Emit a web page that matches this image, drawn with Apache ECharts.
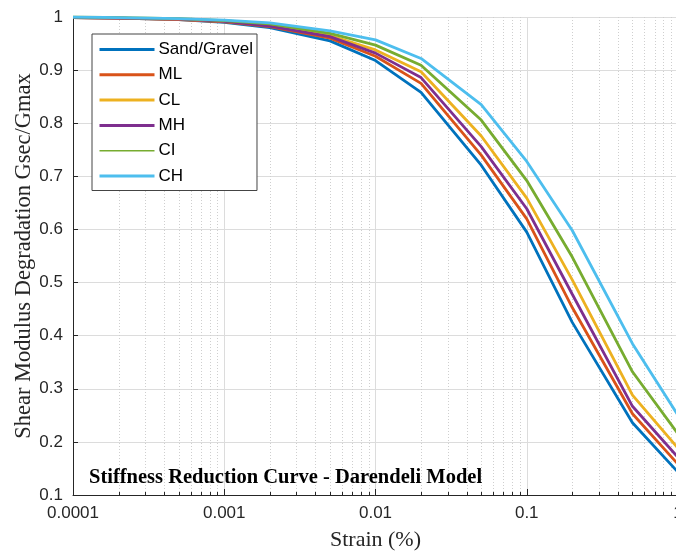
<!DOCTYPE html>
<html>
<head>
<meta charset="utf-8">
<script src="https://cdn.jsdelivr.net/npm/echarts@6/dist/echarts.min.js"></script>
<style>
html,body{margin:0;padding:0;background:#fff;}
#chart{width:676px;height:553px;}
</style>
</head>
<body>
<div id="chart"></div>
<script>
const strain = [0.0001, 0.0002, 0.0005, 0.001, 0.002, 0.005, 0.01, 0.02, 0.05, 0.1, 0.2, 0.5, 1];
const sandGravel = [0.999, 0.998, 0.995, 0.990, 0.980, 0.955, 0.918, 0.858, 0.721, 0.595, 0.425, 0.236, 0.143];
const ml = [0.999, 0.998, 0.995, 0.991, 0.982, 0.960, 0.926, 0.875, 0.740, 0.620, 0.453, 0.253, 0.158];
const cl = [0.999, 0.998, 0.996, 0.992, 0.985, 0.965, 0.938, 0.897, 0.776, 0.659, 0.505, 0.288, 0.188];
const mh = [0.999, 0.998, 0.996, 0.992, 0.983, 0.963, 0.932, 0.886, 0.756, 0.639, 0.478, 0.267, 0.171];
const ci = [1.000, 0.999, 0.997, 0.993, 0.987, 0.969, 0.947, 0.909, 0.806, 0.692, 0.548, 0.332, 0.215];
const ch = [1.000, 0.999, 0.997, 0.994, 0.989, 0.974, 0.957, 0.922, 0.835, 0.728, 0.598, 0.385, 0.250];
const seriesNames = ['Sand/Gravel', 'ML', 'CL', 'MH', 'CI', 'CH'];
const seriesValues = [sandGravel, ml, cl, mh, ci, ch];
const seriesColors = ['#0072BD', '#D95319', '#EDB120', '#7E2F8E', '#77AC30', '#4DBEEE'];
const xTickLabels = ['0.0001', '0.001', '0.01', '0.1', '1'];
const yTickLabels = ['0.1', '0.2', '0.3', '0.4', '0.5', '0.6', '0.7', '0.8', '0.9', '1'];
const minorStrain = [
  0.0002, 0.0003, 0.0004, 0.0005, 0.0006, 0.0007, 0.0008, 0.0009,
  0.002, 0.003, 0.004, 0.005, 0.006, 0.007, 0.008, 0.009,
  0.02, 0.03, 0.04, 0.05, 0.06, 0.07, 0.08, 0.09,
  0.2, 0.3, 0.4, 0.5, 0.6, 0.7, 0.8, 0.9
];
const xMin = 0.0001, xMax = 1, yMin = 0.1, yMax = 1;

const chart = echarts.init(document.getElementById('chart'), null, {renderer: 'canvas'});

const lineSeries = seriesNames.map((name, i) => ({
  name: name,
  type: 'line',
  data: strain.map((s, j) => [s, seriesValues[i][j]]),
  symbol: 'none',
  smooth: false,
  lineStyle: {color: seriesColors[i], width: 2.8},
  itemStyle: {color: seriesColors[i]},
  z: 3 + i
}));

const minorSeries = {
  type: 'custom',
  silent: true,
  z: 1,
  data: minorStrain.map(v => [v, yMin]),
  encode: {x: 0, y: 1},
  renderItem: function (params, api) {
    const v = api.value(0);
    const bot = api.coord([v, yMin]);
    const top = api.coord([v, yMax]);
    const x = Math.round(bot[0]) + 0.5;
    return {
      type: 'group',
      children: [
        {type: 'line', shape: {x1: x, y1: bot[1], x2: x, y2: top[1]},
         style: {stroke: '#cfcfcf', lineWidth: 1, lineDash: [1, 2]}},
        {type: 'line', shape: {x1: x, y1: bot[1], x2: x, y2: bot[1] - 3},
         style: {stroke: '#262626', lineWidth: 1}}
      ]
    };
  }
};

const option = {
  backgroundColor: '#ffffff',
  animation: false,
  grid: {left: 73, right: -2, top: 17, bottom: 58, containLabel: false, outerBoundsMode: 'none'},
  title: {
    text: 'Stiffness Reduction Curve - Darendeli Model',
    left: 84, top: 462,
    textStyle: {fontFamily: 'Liberation Serif', fontWeight: 'bold', fontSize: 20.5, color: '#000'}
  },
  legend: {
    orient: 'vertical',
    left: 92, top: 34,
    padding: [7, 4, 6, 6],
    itemWidth: 55, itemHeight: 14, itemGap: 8.3,
    backgroundColor: '#ffffff',
    borderColor: '#444',
    borderWidth: 1,
    borderRadius: 0,
    itemStyle: {opacity: 0, borderWidth: 0},
    lineStyle: {width: 3},
    textStyle: {fontFamily: 'Liberation Sans', fontSize: 17, color: '#000', padding: [0, 0, 0, -1]},
    data: seriesNames.map((n, i) => (n === 'CI' ? {name: n, lineStyle: {width: 1.5}} : {name: n}))
  },
  xAxis: {
    type: 'log',
    logBase: 10,
    min: xMin, max: xMax,
    name: 'Strain (%)',
    nameLocation: 'middle',
    nameGap: 34,
    nameMoveOverlap: false,
    nameTextStyle: {fontFamily: 'Liberation Serif', fontSize: 22, color: '#262626'},
    axisLine: {show: true, lineStyle: {color: '#262626', width: 1}},
    axisTick: {show: true, inside: true, length: 6, lineStyle: {color: '#262626'}},
    axisLabel: {
      margin: 10,
      fontFamily: 'Liberation Sans', fontSize: 17, color: '#262626',
      formatter: function (v) {
        const idx = Math.round(Math.log10(v) - Math.log10(xMin));
        return xTickLabels[idx] !== undefined ? xTickLabels[idx] : '';
      }
    },
    splitLine: {show: true, lineStyle: {color: '#dcdcdc', width: 1}}
  },
  yAxis: {
    type: 'value',
    min: yMin, max: yMax, interval: 0.1,
    name: 'Shear Modulus Degradation Gsec/Gmax',
    nameLocation: 'middle',
    nameGap: 37,
    nameMoveOverlap: false,
    nameTextStyle: {fontFamily: 'Liberation Serif', fontSize: 22.5, color: '#262626'},
    axisLine: {show: true, lineStyle: {color: '#262626', width: 1}},
    axisTick: {show: true, inside: true, length: 5, lineStyle: {color: '#262626'}},
    axisLabel: {
      margin: 10,
      fontFamily: 'Liberation Sans', fontSize: 17, color: '#262626',
      formatter: function (v) {
        const idx = Math.round((v - yMin) / 0.1);
        return yTickLabels[idx] !== undefined ? yTickLabels[idx] : '';
      }
    },
    splitLine: {show: true, lineStyle: {color: '#dcdcdc', width: 1}}
  },
  series: [minorSeries].concat(lineSeries)
};
chart.setOption(option);
</script>
</body>
</html>
